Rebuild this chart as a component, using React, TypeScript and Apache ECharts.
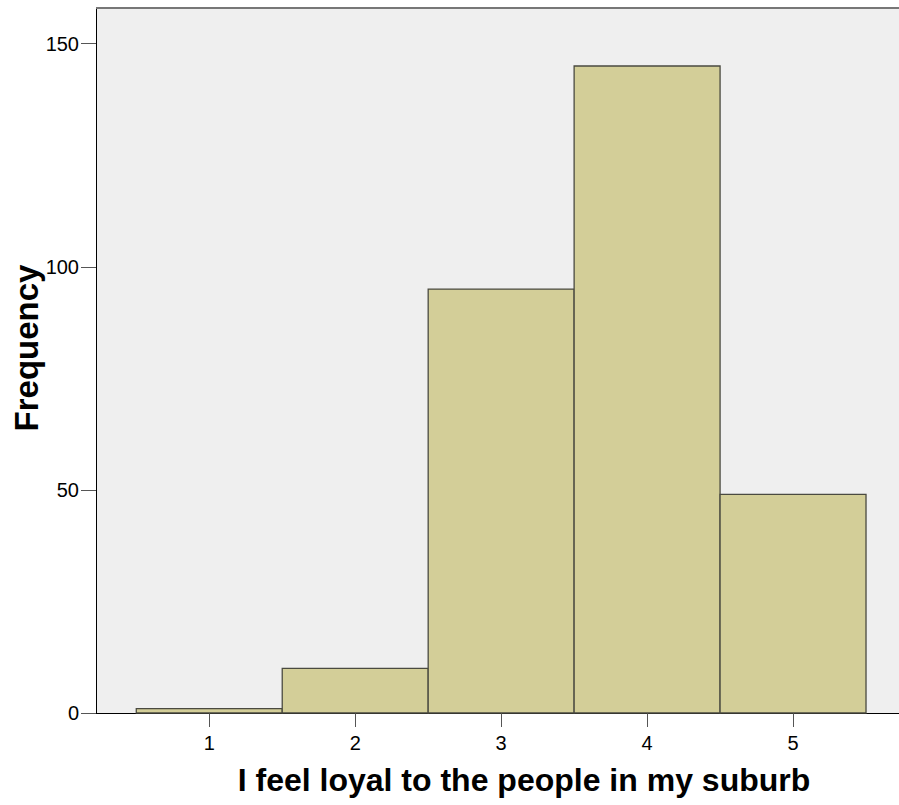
import React, { useEffect, useRef } from "react";
import * as echarts from "echarts";

const categories = [1, 2, 3, 4, 5];
const frequencies = [1, 10, 95, 145, 49];
const yTicks = [0, 50, 100, 150];
const xTitle = "I feel loyal to the people in my suburb";
const yTitle = "Frequency";

const FONT = "Liberation Sans";

export default function App() {
  const ref = useRef<HTMLDivElement>(null);
  useEffect(() => {
    if (!ref.current) return;
    const chart = echarts.init(ref.current, null, { renderer: "svg" });
    const data = categories.map((c, i) => [c, frequencies[i]]);
    chart.setOption({
      animation: false,
      grid: {
        left: 96,
        top: 8,
        right: 0,
        bottom: 92,
        show: true,
        backgroundColor: "#efefef",
        borderWidth: 0,
      },
      xAxis: {
        type: "value",
        min: 0.224,
        max: 5.726,
        splitLine: { show: false },
        axisLine: { show: true, onZero: false, lineStyle: { color: "#000", width: 1 } },
        axisTick: {
          show: true,
          customValues: categories,
          length: 14,
          lineStyle: { color: "#555", width: 1 },
        },
        axisLabel: {
          customValues: categories,
          fontSize: 20,
          fontFamily: FONT,
          color: "#000",
          margin: 20,
        },
      },
      yAxis: {
        type: "value",
        min: 0,
        max: 158,
        splitLine: { show: false },
        axisLine: { show: true, lineStyle: { color: "#000", width: 1 } },
        axisTick: {
          show: true,
          customValues: yTicks,
          length: 15,
          lineStyle: { color: "#555", width: 1 },
        },
        axisLabel: {
          customValues: yTicks,
          fontSize: 20,
          fontFamily: FONT,
          color: "#000",
          margin: 17,
        },
      },
      series: [
        {
          type: "custom",
          data,
          renderItem: (params: any, api: any) => {
            const x = api.value(0);
            const y = api.value(1);
            const p0 = api.coord([x - 0.5, y]);
            const p1 = api.coord([x + 0.5, 0]);
            return {
              type: "rect",
              shape: { x: p0[0], y: p0[1], width: p1[0] - p0[0], height: p1[1] - p0[1] },
              style: { fill: "#d3ce98", stroke: "#4a4a40", lineWidth: 1.3 },
            };
          },
        },
      ],
      graphic: [
        {
          type: "line",
          shape: { x1: 96, y1: 8, x2: 899, y2: 8 },
          style: { stroke: "#777", lineWidth: 2 },
          z: 100,
        },
        {
          type: "text",
          x: 524,
          y: 780,
          style: {
            text: xTitle,
            font: `bold 32px ${FONT}`,
            fill: "#000",
            textAlign: "center",
            textVerticalAlign: "middle",
          },
        },
        {
          type: "text",
          x: 26,
          y: 348,
          rotation: Math.PI / 2,
          style: {
            text: yTitle,
            font: `bold 33px ${FONT}`,
            fill: "#000",
            textAlign: "center",
            textVerticalAlign: "middle",
          },
        },
      ],
    });
    return () => chart.dispose();
  }, []);
  return (
    <div
      ref={ref}
      style={{ position: "fixed", left: 0, top: 0, width: 899, height: 805, background: "#fff" }}
    />
  );
}
